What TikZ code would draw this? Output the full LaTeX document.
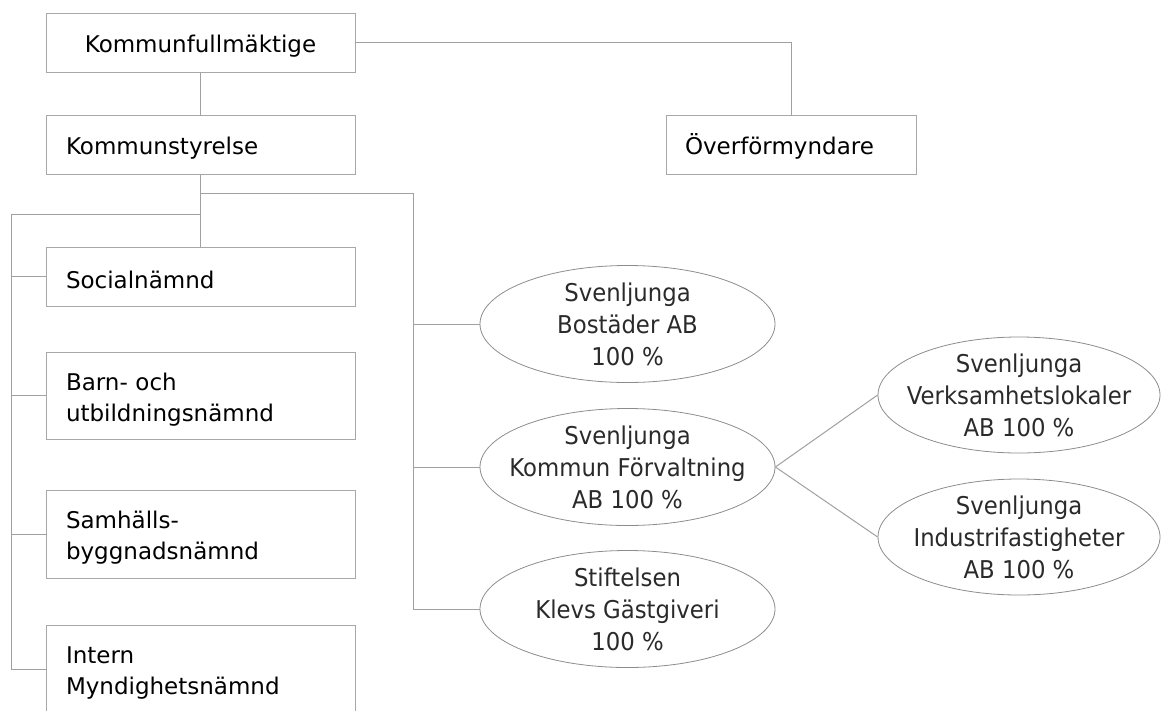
\documentclass[tikz,border=0pt]{standalone}
\usepackage{fontspec}
\setmainfont{DejaVu Sans}
\newfontfamily\efont[FakeStretch=0.93]{DejaVu Sans}
\usetikzlibrary{shapes.geometric}
\definecolor{linegray}{HTML}{A0A0A0}
\definecolor{boxgray}{HTML}{A8A8A8}
\definecolor{ellgray}{HTML}{8C8C8C}
\definecolor{etext}{HTML}{2A2A2A}
\tikzset{
  conn/.style={draw=linegray, line width=1pt},
  orgbox/.style={draw=boxgray, line width=1pt, rectangle, minimum width=309pt,
    inner xsep=20pt, inner ysep=0pt, text width=269pt, align=left,
    font=\fontsize{23}{31}\selectfont, text=black,
    execute at begin node={\rule{0pt}{25pt}}},
  orgboxc/.style={orgbox, align=center},
  comp/.style={draw=ellgray, line width=0.8pt, ellipse, inner xsep=-70pt, inner ysep=-25pt,
    minimum width=295pt, minimum height=117pt, align=center,
    font=\efont\fontsize{24.5}{32}\selectfont, text=etext,
    execute at begin node={\rule{0pt}{31pt}}},
}
\begin{document}
\begin{tikzpicture}[x=1pt, y=-1pt]
\useasboundingbox (0,0) rectangle (1164,710);
% boxes
\node[orgboxc, minimum height=59pt] (kf) at (200.5,42.5) {Kommunfullmäktige};
\node[orgbox, minimum height=59pt] (ks) at (200.5,144.5) {Kommunstyrelse};
\node[orgbox, minimum width=250pt, text width=212pt, inner xsep=19pt, minimum height=59pt] (ov) at (791,144.5) {Överförmyndare};
\node[orgbox, minimum height=59pt] (soc) at (200.5,276.5) {Socialnämnd};
\node[orgbox, minimum height=87pt] (barn) at (200.5,395.5) {Barn- och\\utbildningsnämnd};
\node[orgbox, minimum height=88pt] (sam) at (200.5,534) {Samhälls-\\byggnadsnämnd};
\node[orgbox, minimum height=88pt] (int) at (200.5,669) {Intern\\Myndighetsnämnd};
% companies
\node[comp] (bo) at (627.5,324) {Svenljunga\\Bostäder AB\\100 \%};
\node[comp] (kfa) at (627.5,467) {Svenljunga\\Kommun Förvaltning\\AB 100 \%};
\node[comp] (st) at (627.5,609) {Stiftelsen\\Klevs Gästgiveri\\100 \%};
\node[comp, minimum width=282pt, minimum height=116pt] (ve) at (1019,395) {Svenljunga\\Verksamhetslokaler\\AB 100 \%};
\node[comp, minimum width=282pt, minimum height=116pt] (ind) at (1019,537) {Svenljunga\\Industrifastigheter\\AB 100 \%};
% junctions
\coordinate (rb) at (413,193);
\coordinate (lb) at (11,214);
% connectors
\draw[conn] (kf.east) -| (ov.north);
\draw[conn] (kf.south) -- (ks.north);
\draw[conn] (ks.south) -- (soc.north);
\draw[conn] (ks.south |- rb) -- (rb) |- (st.west);
\draw[conn] (rb |- bo.west) -- (bo.west);
\draw[conn] (rb |- kfa.west) -- (kfa.west);
\draw[conn] (ks.south |- lb) -- (lb) |- (int.west);
\draw[conn] (lb |- soc.west) -- (soc.west);
\draw[conn] (lb |- barn.west) -- (barn.west);
\draw[conn] (lb |- sam.west) -- (sam.west);
\draw[conn] (kfa.east) -- (ve.west);
\draw[conn] (kfa.east) -- (ind.west);
\end{tikzpicture}
\end{document}
